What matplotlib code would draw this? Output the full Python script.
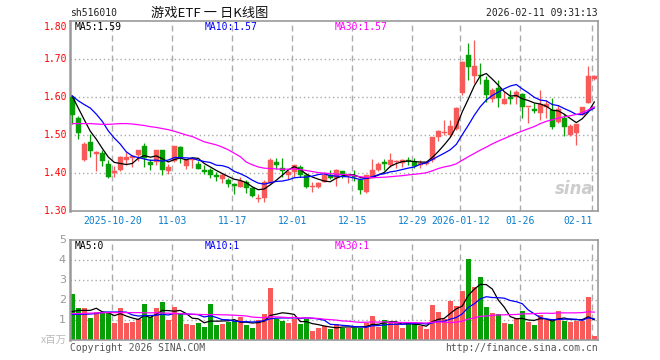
import numpy as np
import matplotlib
matplotlib.use("Agg")
import matplotlib.pyplot as plt

# ---------------- data ----------------
opens = [1.601, 1.546, 1.435, 1.482, 1.449, 1.452, 1.425, 1.399, 1.408, 1.434,
         1.439, 1.447, 1.471, 1.428, 1.430, 1.460, 1.406, 1.432, 1.469, 1.418,
         1.433, 1.424, 1.408, 1.408, 1.395, 1.384, 1.382, 1.371, 1.364, 1.377,
         1.360, 1.331, 1.335, 1.375, 1.430, 1.412, 1.396, 1.402, 1.417, 1.395,
         1.364, 1.364, 1.377, 1.395, 1.388, 1.405, 1.391, 1.392, 1.381, 1.351,
         1.388, 1.408, 1.427, 1.421, 1.430, 1.427, 1.434, 1.430, 1.421, 1.425,
         1.434, 1.496, 1.504, 1.500, 1.516, 1.610, 1.711, 1.654, 1.656, 1.646,
         1.594, 1.623, 1.582, 1.598, 1.599, 1.608, 1.573, 1.568, 1.557, 1.575,
         1.566, 1.535, 1.544, 1.500, 1.506, 1.553, 1.583, 1.648]
highs = [1.603, 1.549, 1.482, 1.503, 1.458, 1.460, 1.434, 1.418, 1.446, 1.456,
         1.447, 1.461, 1.478, 1.436, 1.461, 1.461, 1.425, 1.472, 1.470, 1.437,
         1.437, 1.432, 1.421, 1.412, 1.403, 1.399, 1.386, 1.373, 1.390, 1.382,
         1.364, 1.346, 1.382, 1.439, 1.439, 1.439, 1.408, 1.421, 1.421, 1.399,
         1.377, 1.377, 1.402, 1.408, 1.411, 1.405, 1.395, 1.408, 1.386, 1.395,
         1.437, 1.430, 1.437, 1.452, 1.434, 1.437, 1.443, 1.439, 1.434, 1.432,
         1.496, 1.513, 1.539, 1.539, 1.575, 1.696, 1.743, 1.750, 1.689, 1.656,
         1.623, 1.645, 1.614, 1.618, 1.618, 1.611, 1.575, 1.583, 1.618, 1.592,
         1.598, 1.579, 1.555, 1.529, 1.529, 1.573, 1.682, 1.658]
lows = [1.529, 1.489, 1.432, 1.441, 1.406, 1.419, 1.387, 1.390, 1.405, 1.421,
        1.415, 1.432, 1.417, 1.408, 1.422, 1.395, 1.397, 1.430, 1.427, 1.410,
        1.413, 1.410, 1.397, 1.388, 1.380, 1.373, 1.364, 1.344, 1.364, 1.348,
        1.338, 1.323, 1.323, 1.373, 1.411, 1.390, 1.384, 1.390, 1.390, 1.360,
        1.351, 1.361, 1.377, 1.384, 1.367, 1.388, 1.375, 1.379, 1.344, 1.347,
        1.388, 1.405, 1.408, 1.417, 1.412, 1.417, 1.421, 1.414, 1.412, 1.421,
        1.430, 1.485, 1.500, 1.496, 1.513, 1.605, 1.645, 1.636, 1.633, 1.588,
        1.588, 1.575, 1.582, 1.582, 1.582, 1.546, 1.531, 1.557, 1.539, 1.544,
        1.515, 1.532, 1.498, 1.497, 1.475, 1.553, 1.583, 1.646]
closes = [1.553, 1.504, 1.475, 1.457, 1.456, 1.432, 1.390, 1.405, 1.442, 1.443,
          1.445, 1.460, 1.439, 1.421, 1.460, 1.408, 1.417, 1.471, 1.441, 1.435,
          1.436, 1.410, 1.403, 1.396, 1.389, 1.395, 1.371, 1.367, 1.380, 1.360,
          1.340, 1.333, 1.377, 1.434, 1.421, 1.405, 1.403, 1.421, 1.395, 1.362,
          1.366, 1.375, 1.396, 1.386, 1.409, 1.395, 1.395, 1.389, 1.355, 1.395,
          1.408, 1.425, 1.425, 1.434, 1.432, 1.434, 1.432, 1.419, 1.427, 1.430,
          1.496, 1.511, 1.507, 1.524, 1.572, 1.691, 1.678, 1.682, 1.654, 1.604,
          1.618, 1.598, 1.596, 1.596, 1.612, 1.575, 1.575, 1.564, 1.582, 1.582,
          1.522, 1.568, 1.520, 1.525, 1.528, 1.573, 1.655, 1.654]
volumes = [2.28, 1.58, 1.58, 1.08, 1.42, 1.38, 1.38, 0.83, 1.58, 0.83,
           0.88, 1.03, 1.78, 1.13, 1.58, 1.88, 0.98, 1.63, 1.33, 0.78,
           0.73, 0.83, 0.63, 1.78, 0.73, 0.78, 0.88, 0.93, 1.13, 0.73,
           0.58, 0.98, 1.28, 2.58, 1.03, 0.93, 0.83, 1.03, 0.78, 1.03,
           0.43, 0.58, 0.68, 0.53, 0.82, 0.62, 0.62, 0.62, 0.62, 0.87,
           1.18, 0.63, 1.00, 0.87, 0.87, 0.58, 0.82, 0.82, 0.70, 0.53,
           1.73, 1.38, 1.07, 1.93, 1.68, 2.43, 4.03, 2.63, 3.13, 1.63,
           1.33, 1.28, 0.83, 0.78, 1.08, 1.43, 0.88, 0.73, 1.23, 0.98,
           0.93, 1.43, 0.93, 0.88, 0.93, 0.93, 2.13, 0.18]

# moving-average values before enough bars exist
ma5_head = [1.602, 1.571, 1.540, 1.510]
ma10_head = [1.603, 1.590, 1.580, 1.571, 1.555, 1.536, 1.511, 1.492, 1.476]
ma30_head = [1.530, 1.530, 1.530, 1.530, 1.529, 1.528, 1.528, 1.529, 1.530, 1.530,
             1.529, 1.527, 1.525, 1.522, 1.520, 1.517, 1.514, 1.510, 1.505, 1.500,
             1.496, 1.489, 1.482, 1.478, 1.474, 1.468, 1.461, 1.452, 1.443]
vma5_head = [1.42, 1.48, 1.48, 1.48]
vma10_head = [1.28, 1.28, 1.29, 1.30, 1.32, 1.38, 1.40, 1.40, 1.40]
vma30_head = [1.32, 1.32, 1.33, 1.34, 1.35, 1.36, 1.37, 1.37, 1.37, 1.37,
              1.37, 1.37, 1.36, 1.36, 1.36, 1.35, 1.34, 1.33, 1.32, 1.30,
              1.29, 1.28, 1.27, 1.27, 1.27, 1.26, 1.25, 1.24, 1.22]

tick_idx = [7, 17, 27, 37, 47, 57, 65, 75, 87]
tick_labels = ["2025-10-20", "11-03", "11-17", "12-01", "12-15", "12-29",
               "2026-01-12", "01-26", "02-11"]
price_ticks = [1.30, 1.40, 1.50, 1.60, 1.70, 1.80]
vol_ticks = [1, 2, 3, 4, 5]

title = "游戏ETF 一 日K线图"
code = "sh516010"
stamp = "2026-02-11 09:31:13"
price_legend = ["MA5:1.59", "MA10:1.57", "MA30:1.57"]
vol_legend = ["MA5:0", "MA10:1", "MA30:1"]

# ---------------- helpers ----------------
def moving_avg(vals, n, head):
    vals = np.asarray(vals, float)
    out = np.empty(len(vals))
    out[:n - 1] = head
    c = np.convolve(vals, np.ones(n) / n, mode="valid")
    out[n - 1:] = c
    return out

RED = "#f85a5a"
GREEN = "#06a006"
MA_COL = ["#000000", "#0000ff", "#ff00ff"]
GRID = "#aaaaaa"
MONO = "DejaVu Sans Mono"

W, H = 660, 360
fig = plt.figure(figsize=(6.6, 3.6), dpi=100)
fig.patch.set_facecolor("white")

def rect(l, t, r, b):
    return [l / W, 1 - b / H, (r - l) / W, (b - t) / H]

def ftxt(x, y, s, **kw):
    fig.text(x / W, 1 - y / H, s, **kw)

n = len(closes)
x = np.arange(n)
o = np.array(opens); c = np.array(closes)
hi = np.array(highs); lo = np.array(lows)
up = c >= o
cols = np.where(up, RED, GREEN)

XL = (-0.38, 87.62)

# ---------------- price panel ----------------
ax = fig.add_axes(rect(70, 21, 598, 211))
ax.set_xlim(*XL)
ax.set_ylim(1.30, 1.80)
for yv in price_ticks[1:-1]:
    ax.axhline(yv, color=GRID, lw=1.0, ls=(0, (1, 2)), zorder=0)
for ti in tick_idx:
    ax.axvline(ti - 0.33, color=GRID, lw=1.0, ls=(0, (4.3, 2.9)), zorder=0)

ax.vlines(x, lo, hi, colors=cols, lw=0.9, zorder=2)
bh = np.maximum(np.abs(c - o), 0.0027)
bb = np.minimum(o, c)
ax.bar(x, bh, bottom=bb, width=0.8, color=cols, edgecolor=cols, lw=0.3, zorder=3)

for nma, head, col in zip([5, 10, 30], [ma5_head, ma10_head, ma30_head], MA_COL):
    ax.plot(x, moving_avg(closes, nma, head), color=col, lw=0.9, zorder=4)

ax.set_xticks([]); ax.set_yticks([])
for s in ax.spines.values():
    s.set_color("#999999"); s.set_linewidth(1.2)
ax.spines["left"].set_linewidth(1.8)

ax.text(0.535, 0.06, "sina", transform=ax.transAxes, fontsize=1, color="white")
ax.text(0.955, 0.07, "sina", transform=ax.transAxes, fontsize=12,
        fontstyle="italic", fontweight="bold", color="#cccccc", ha="center",
        va="bottom", zorder=1)

# ---------------- volume panel ----------------
av = fig.add_axes(rect(70, 240, 598, 340))
av.set_xlim(*XL)
av.set_ylim(0, 5)
for yv in vol_ticks[:-1]:
    av.axhline(yv, color=GRID, lw=1.0, ls=(0, (1, 2)), zorder=0)
for ti in tick_idx:
    av.axvline(ti - 0.33, color=GRID, lw=1.0, ls=(0, (4.3, 2.9)), zorder=0)
av.bar(x, volumes, width=0.8, color=cols, zorder=2)
for nma, head, col in zip([5, 10, 30], [vma5_head, vma10_head, vma30_head], MA_COL):
    av.plot(x, moving_avg(volumes, nma, head), color=col, lw=0.9, zorder=4)
av.set_xticks([]); av.set_yticks([])
for s in av.spines.values():
    s.set_color("#999999"); s.set_linewidth(1.2)
av.spines["left"].set_linewidth(1.8)

# ---------------- texts ----------------
ftxt(70, 13, code, fontsize=7, family=MONO, color="#222222", va="center", ha="left")
ftxt(210, 13, title, fontsize=9.5, family=["Noto Sans CJK SC", "DejaVu Sans"],
     color="#111111", va="center", ha="center")
ftxt(598, 13, stamp, fontsize=7, family=MONO, color="#222222", va="center", ha="right")

# price axis labels
for pv in price_ticks:
    yp = 211 - (pv - 1.30) * 380
    if pv == 1.80:
        yp = 27
    ftxt(67, yp, f"{pv:.2f}", fontsize=7, family=MONO, color="#ff0000",
         va="center", ha="right")
for vv in vol_ticks:
    ftxt(66, 340 - vv * 20, f"{vv}", fontsize=8, family="DejaVu Sans",
         color="#999999", va="center", ha="right")
ftxt(67, 340, "x百万", fontsize=7.5, family=["Noto Sans CJK SC", "DejaVu Sans"],
     color="#bbbbbb", va="center", ha="right")

# legends
lx = [75, 205, 335]
for s, col, xx in zip(price_legend, MA_COL, lx):
    ftxt(xx, 27, s, fontsize=7, family=MONO, color=col, va="center", ha="left")
for s, col, xx in zip(vol_legend, MA_COL, lx):
    ftxt(xx, 246, s, fontsize=7, family=MONO, color=col, va="center", ha="left")

# x labels
for ti, lab in zip(tick_idx, tick_labels):
    px = 72.3 + 6 * ti - 2
    ha = "center"
    if lab == "02-11":
        px = 593; ha = "right"
    ftxt(px, 221, lab, fontsize=7, family=MONO, color="#0a7fd0", va="center", ha=ha)

ftxt(70, 348, "Copyright 2026 SINA.COM", fontsize=7, family=MONO, color="#555555",
     va="center", ha="left")
ftxt(598, 348, "http://finance.sina.com.cn", fontsize=7, family=MONO,
     color="#555555", va="center", ha="right")

fig.savefig("out.png", dpi=100, facecolor="white")
